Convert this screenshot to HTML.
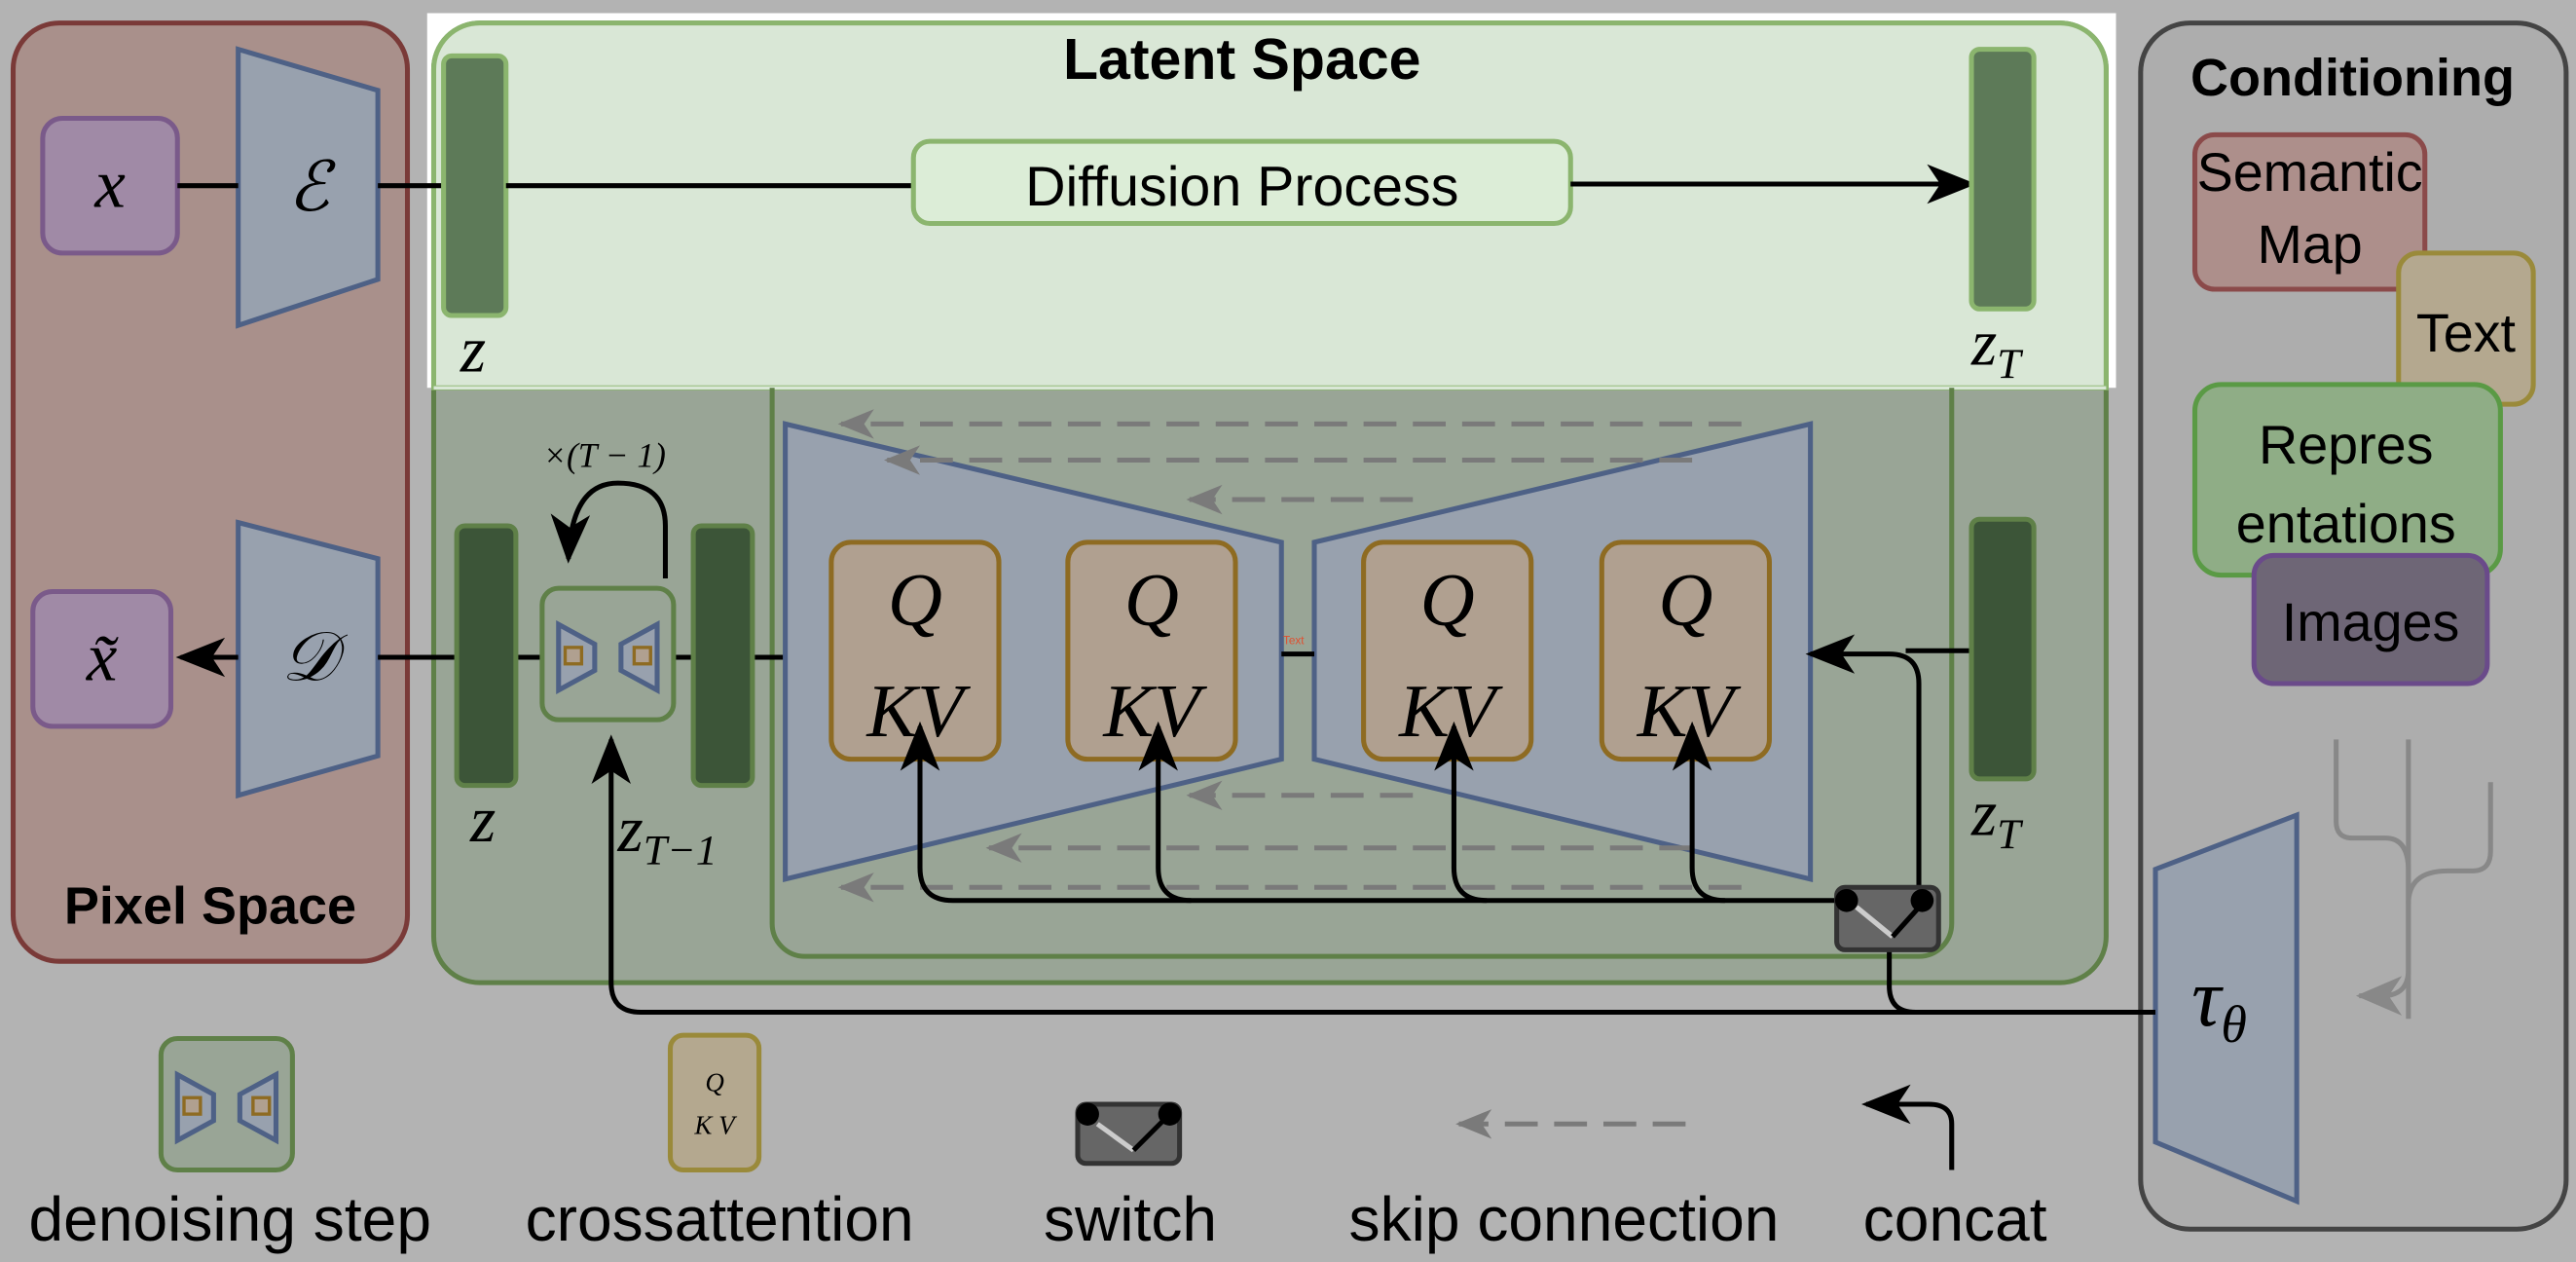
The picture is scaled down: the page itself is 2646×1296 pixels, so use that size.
<!DOCTYPE html>
<html><head><meta charset="utf-8"><style>
html,body{margin:0;padding:0;background:#b3b3b3;}
svg{display:block}
text{font-family:"Liberation Sans",sans-serif;}
text.m,.m text{font-family:"Liberation Serif",serif;font-style:italic;}
</style></head><body>
<svg width="2646" height="1296" viewBox="0 0 1568 768" xmlns="http://www.w3.org/2000/svg">
<defs>
<marker id="ab" markerWidth="30" markerHeight="30" refX="27" refY="15" orient="auto" markerUnits="userSpaceOnUse" viewBox="0 0 30 30"><path d="M0,3 L30,15 L0,27 L8,15 Z" fill="#000"/></marker>
<marker id="ag" markerWidth="22" markerHeight="22" refX="20" refY="11" orient="auto" markerUnits="userSpaceOnUse" viewBox="0 0 22 22"><path d="M0,2 L22,11 L0,20 L6,11 Z" fill="#7a7a7a"/></marker>
<marker id="ag2" markerWidth="28" markerHeight="28" refX="26" refY="14" orient="auto" markerUnits="userSpaceOnUse" viewBox="0 0 28 28"><path d="M0,2 L28,14 L0,26 L8,14 Z" fill="#888"/></marker>
</defs>
<rect width="1568" height="768" fill="#b3b3b3"/>
<!-- Pixel space -->
<rect x="8" y="14" width="240" height="571" rx="28" fill="#a9908b" stroke="#7a3a38" stroke-width="3"/>
<text x="128" y="562" font-size="32" font-weight="bold" text-anchor="middle">Pixel Space</text>
<!-- Latent -->
<rect x="260" y="8" width="1028" height="228" fill="#fff"/>
<rect x="264" y="14" width="1018" height="584" rx="28" fill="#99a596" stroke="#5f8048" stroke-width="3"/>
<path d="M264,236 V42 A28,28 0 0 1 292,14 H1254 A28,28 0 0 1 1282,42 V236 Z" fill="#d9e7d6" stroke="#8bb56e" stroke-width="3"/>
<line x1="264" y1="236" x2="1282" y2="236" stroke="#d9e7d6" stroke-width="2"/>
<text x="756" y="48" font-size="35" font-weight="bold" text-anchor="middle">Latent Space</text>
<path d="M470,236 V562 A20,20 0 0 0 490,582 H1168 A20,20 0 0 0 1188,562 V236" fill="none" stroke="#5f8048" stroke-width="3"/>
<!-- Conditioning -->
<rect x="1303" y="14" width="259" height="734" rx="30" fill="#adadad" stroke="#444" stroke-width="3"/>
<text x="1432" y="58" font-size="32" font-weight="bold" text-anchor="middle">Conditioning</text>
<rect x="1336" y="82" width="140" height="94" rx="12" fill="#ad8f8b" stroke="#8b4a4a" stroke-width="3"/>
<text x="1406" y="116" font-size="33" text-anchor="middle">Semantic</text>
<text x="1406" y="160" font-size="33" text-anchor="middle">Map</text>
<rect x="1460" y="154" width="82" height="92" rx="12" fill="#b4a88f" stroke="#9a8a3a" stroke-width="3"/>
<text x="1501" y="214" font-size="33" text-anchor="middle">Text</text>
<rect x="1336" y="234" width="186" height="116" rx="16" fill="#8fad86" stroke="#5a9a45" stroke-width="3"/>
<text x="1428" y="282" font-size="33" text-anchor="middle">Repres</text>
<text x="1428" y="330" font-size="33" text-anchor="middle">entations</text>
<rect x="1372" y="338" width="142" height="78" rx="12" fill="#6e6676" stroke="#6a4a8a" stroke-width="3"/>
<text x="1443" y="390" font-size="33" text-anchor="middle">Images</text>
<g fill="none" stroke="#888" stroke-width="3">
<path d="M1422,450 V500 Q1422,510 1432,510 H1452 Q1466,510 1466,530 V590 Q1466,606 1450,606 H1436" marker-end="url(#ag2)"/>
<path d="M1466,450 V620"/>
<path d="M1466,550 Q1466,530 1490,530 H1505 Q1516,530 1516,518 V476"/>
</g>
<polygon points="1312,529 1398,496 1398,731 1312,695" fill="#98a1ae" stroke="#4e6186" stroke-width="3"/>
<text x="1334" y="624" font-size="50" class="m">τ<tspan font-size="32" dy="10">θ</tspan></text>
<!-- top row -->
<rect x="26" y="72" width="82" height="82" rx="12" fill="#a08aa6" stroke="#7a5a8a" stroke-width="3"/>
<text x="67" y="126" font-size="42" class="m" text-anchor="middle">x</text>
<polygon points="145,30 230,55 230,170 145,198" fill="#98a1ae" stroke="#4e6186" stroke-width="3"/>
<text x="188" y="128" font-size="42" class="m" text-anchor="middle">ℰ</text>
<line x1="108" y1="113" x2="145" y2="113" stroke="#000" stroke-width="3"/>
<line x1="230" y1="113" x2="270" y2="113" stroke="#000" stroke-width="3"/>
<rect x="270" y="34" width="38" height="158" rx="5" fill="#5d7a58" stroke="#8bb56e" stroke-width="3"/>
<text x="288" y="226" font-size="40" class="m" text-anchor="middle">z</text>
<line x1="308" y1="113" x2="556" y2="113" stroke="#000" stroke-width="3"/>
<rect x="556" y="86" width="400" height="50" rx="10" fill="#dcedd7" stroke="#8bb56e" stroke-width="3"/>
<text x="756" y="125" font-size="34" text-anchor="middle">Diffusion Process</text>
<line x1="956" y1="112" x2="1200" y2="112" stroke="#000" stroke-width="3" marker-end="url(#ab)"/>
<rect x="1200" y="30" width="38" height="158" rx="5" fill="#5d7a58" stroke="#8bb56e" stroke-width="3"/>
<text x="1200" y="222" font-size="40" class="m">z<tspan font-size="26" dy="8">T</tspan></text>
<!-- lower row -->
<rect x="20" y="360" width="84" height="82" rx="12" fill="#a08aa6" stroke="#7a5a8a" stroke-width="3"/>
<text x="62" y="414" font-size="42" class="m" text-anchor="middle">x̃</text>
<polygon points="145,318 230,340 230,460 145,484" fill="#98a1ae" stroke="#4e6186" stroke-width="3"/>
<text x="188" y="414" font-size="42" class="m" text-anchor="middle">𝒟</text>
<line x1="145" y1="400" x2="110" y2="400" stroke="#000" stroke-width="3" marker-end="url(#ab)"/>
<line x1="230" y1="400" x2="478" y2="400" stroke="#000" stroke-width="3"/>
<rect x="278" y="320" width="36" height="158" rx="5" fill="#3c5538" stroke="#5f8048" stroke-width="3"/>
<text x="294" y="512" font-size="40" class="m" text-anchor="middle">z</text>
<rect x="422" y="320" width="36" height="158" rx="5" fill="#3c5538" stroke="#5f8048" stroke-width="3"/>
<text x="376" y="518" font-size="40" class="m">z<tspan font-size="26" dy="8">T−1</tspan></text>
<rect x="330" y="358" width="80" height="80" rx="10" fill="#99a596" stroke="#5f8048" stroke-width="3"/>
<polygon points="340,380 362,392 362,408 340,420" fill="#98a1ae" stroke="#4e6186" stroke-width="3"/>
<polygon points="400,380 378,392 378,408 400,420" fill="#98a1ae" stroke="#4e6186" stroke-width="3"/>
<rect x="344" y="394" width="10" height="10" fill="#b0a090" stroke="#8e6b22" stroke-width="2"/>
<rect x="386" y="394" width="10" height="10" fill="#b0a090" stroke="#8e6b22" stroke-width="2"/>
<text x="368" y="284" font-size="21" class="m" text-anchor="middle">×(T − 1)</text>
<path d="M405,352 V320 Q405,294 376,294 Q348,294 346,340" fill="none" stroke="#000" stroke-width="3" marker-end="url(#ab)"/>
<!-- U-Net -->
<polygon points="478,258 780,330 780,462 478,535" fill="#98a1ae" stroke="#4e6186" stroke-width="3"/>
<polygon points="800,330 1102,258 1102,535 800,462" fill="#98a1ae" stroke="#4e6186" stroke-width="3"/>
<line x1="780" y1="398" x2="800" y2="398" stroke="#000" stroke-width="3"/>
<text x="781" y="392" font-size="7" fill="#e05030">Text</text>
<g fill="none" stroke="#7a7a7a" stroke-width="3" stroke-dasharray="20,10">
<line x1="1060" y1="258" x2="512" y2="258" marker-end="url(#ag)"/>
<line x1="1030" y1="280" x2="540" y2="280" marker-end="url(#ag)"/>
<line x1="860" y1="304" x2="724" y2="304" marker-end="url(#ag)"/>
<line x1="860" y1="484" x2="724" y2="484" marker-end="url(#ag)"/>
<line x1="1030" y1="516" x2="602" y2="516" marker-end="url(#ag)"/>
<line x1="1060" y1="540" x2="512" y2="540" marker-end="url(#ag)"/>
</g>
<g fill="#b0a090" stroke="#8e6b22" stroke-width="3">
<rect x="506" y="330" width="102" height="132" rx="12"/>
<rect x="650" y="330" width="102" height="132" rx="12"/>
<rect x="830" y="330" width="102" height="132" rx="12"/>
<rect x="975" y="330" width="102" height="132" rx="12"/>
</g>
<g font-size="46" text-anchor="middle">
<text class="m" x="557" y="380">Q</text><text class="m" x="557" y="448">KV</text>
<text class="m" x="701" y="380">Q</text><text class="m" x="701" y="448">KV</text>
<text class="m" x="881" y="380">Q</text><text class="m" x="881" y="448">KV</text>
<text class="m" x="1026" y="380">Q</text><text class="m" x="1026" y="448">KV</text>
</g>
<g fill="none" stroke="#000" stroke-width="3">
<path d="M1124,548 H580 Q560,548 560,528 V442" marker-end="url(#ab)"/>
<path d="M725,548 Q705,548 705,528 V442" marker-end="url(#ab)"/>
<path d="M905,548 Q885,548 885,528 V442" marker-end="url(#ab)"/>
<path d="M1050,548 Q1030,548 1030,528 V442" marker-end="url(#ab)"/>
<path d="M1168,548 V416 Q1168,398 1150,398 H1102" marker-end="url(#ab)"/>
<line x1="1200" y1="396" x2="1160" y2="396"/>
<path d="M1312,616 H390 Q372,616 372,598 V450" marker-end="url(#ab)"/>
<path d="M1166,616 Q1150,616 1150,600 V578"/>
</g>
<rect x="1200" y="316" width="38" height="158" rx="5" fill="#3c5538" stroke="#5f8048" stroke-width="3"/>
<text x="1200" y="508" font-size="40" class="m">z<tspan font-size="26" dy="8">T</tspan></text>
<rect x="1118" y="540" width="62" height="38" rx="5" fill="#666" stroke="#333" stroke-width="3"/>
<line x1="1130" y1="552" x2="1152" y2="570" stroke="#ccc" stroke-width="3"/>
<line x1="1152" y1="570" x2="1170" y2="550" stroke="#000" stroke-width="3"/>
<circle cx="1124" cy="548" r="7" fill="#000"/>
<circle cx="1170" cy="548" r="7" fill="#000"/>
<!-- Legend -->
<rect x="98" y="632" width="80" height="80" rx="10" fill="#99a596" stroke="#5f8048" stroke-width="3"/>
<polygon points="108,654 130,666 130,682 108,694" fill="#98a1ae" stroke="#4e6186" stroke-width="3"/>
<polygon points="168,654 146,666 146,682 168,694" fill="#98a1ae" stroke="#4e6186" stroke-width="3"/>
<rect x="112" y="668" width="10" height="10" fill="#b0a090" stroke="#8e6b22" stroke-width="2"/>
<rect x="154" y="668" width="10" height="10" fill="#b0a090" stroke="#8e6b22" stroke-width="2"/>
<text x="140" y="755" font-size="38" text-anchor="middle">denoising step</text>
<rect x="408" y="630" width="54" height="82" rx="8" fill="#b4a88f" stroke="#9a8a3a" stroke-width="3"/>
<text x="435" y="664" font-size="16" class="m" text-anchor="middle">Q</text>
<text x="435" y="690" font-size="16" class="m" text-anchor="middle">K V</text>
<text x="438" y="755" font-size="38" text-anchor="middle">crossattention</text>
<rect x="656" y="672" width="62" height="36" rx="5" fill="#666" stroke="#333" stroke-width="3"/>
<line x1="668" y1="684" x2="690" y2="700" stroke="#ccc" stroke-width="3"/>
<line x1="690" y1="700" x2="710" y2="680" stroke="#000" stroke-width="3"/>
<circle cx="662" cy="678" r="7" fill="#000"/><circle cx="712" cy="678" r="7" fill="#000"/>
<text x="688" y="755" font-size="38" text-anchor="middle">switch</text>
<line x1="1026" y1="684" x2="888" y2="684" stroke="#7a7a7a" stroke-width="3" stroke-dasharray="20,10" marker-end="url(#ag)"/>
<text x="952" y="755" font-size="38" text-anchor="middle">skip connection</text>
<path d="M1188,712 V684 Q1188,672 1174,672 H1136" fill="none" stroke="#000" stroke-width="3" marker-end="url(#ab)"/>
<text x="1190" y="755" font-size="38" text-anchor="middle">concat</text>
</svg>
</body></html>
